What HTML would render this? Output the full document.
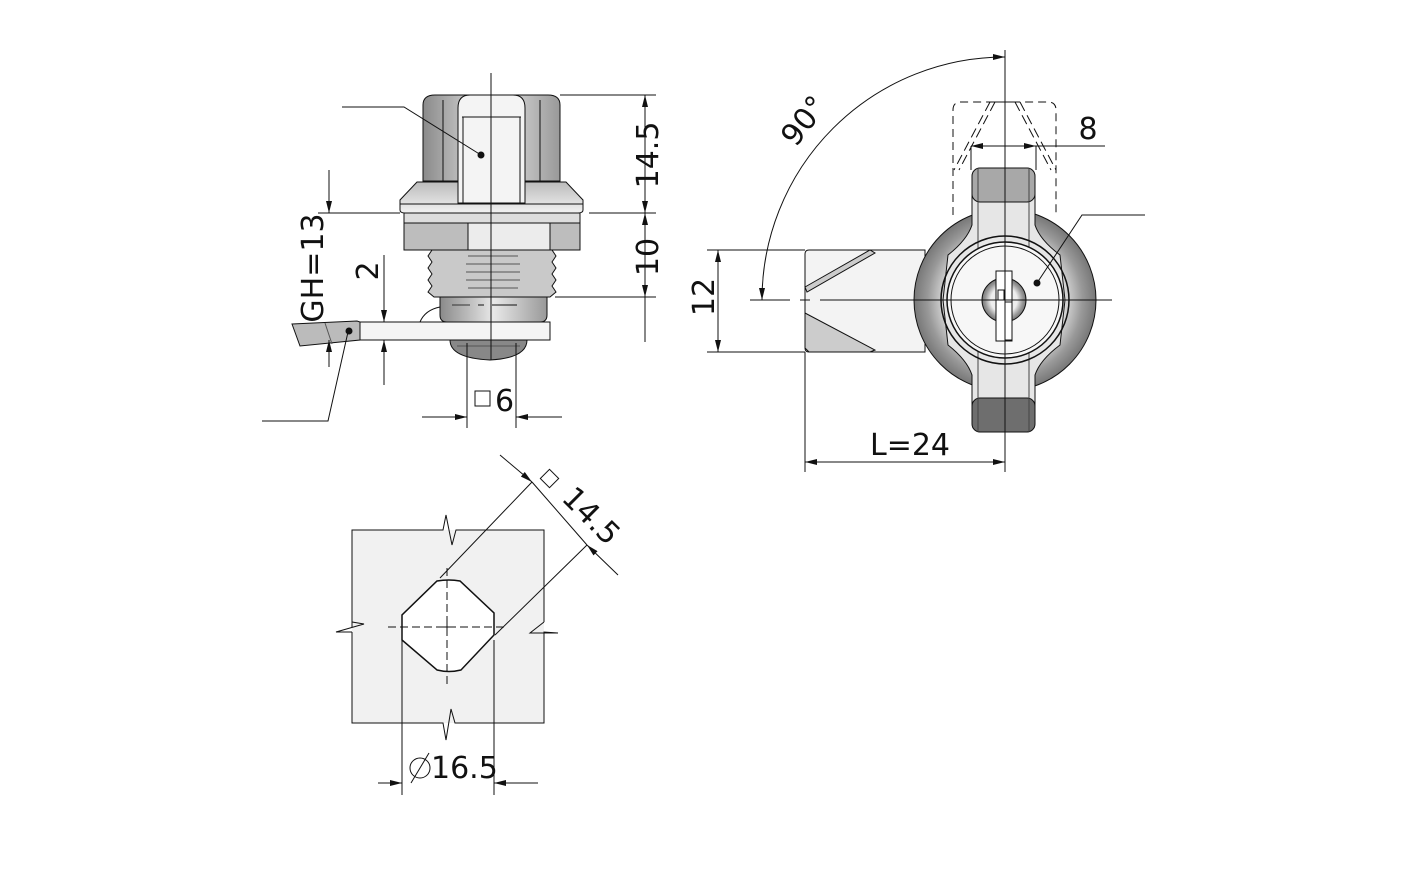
<!DOCTYPE html>
<html><head><meta charset="utf-8"><style>
html,body{margin:0;padding:0;background:#fff}
svg{display:block}
text{font-family:"DejaVu Sans","Liberation Sans",sans-serif;fill:#111}
</style></head><body>
<svg width="1424" height="896" viewBox="0 0 1424 896" xmlns="http://www.w3.org/2000/svg">
<defs>
<marker id="a" viewBox="0 0 12 6" refX="12" refY="3" markerWidth="12" markerHeight="6" orient="auto-start-reverse" markerUnits="userSpaceOnUse"><path d="M0,0 L12,3 L0,6 z" fill="#111"/></marker>
<linearGradient id="gH" x1="0" x2="1"><stop offset="0" stop-color="#8a8a8a"/><stop offset=".5" stop-color="#e8e8e8"/><stop offset="1" stop-color="#999"/></linearGradient>
<linearGradient id="gV" x1="0" y1="0" x2="0" y2="1"><stop offset="0" stop-color="#bbb"/><stop offset="1" stop-color="#f2f2f2"/></linearGradient>
<radialGradient id="gR"><stop offset=".6" stop-color="#eee"/><stop offset=".85" stop-color="#999"/><stop offset="1" stop-color="#777"/></radialGradient>
</defs>
<g stroke="#111" stroke-width="1" fill="none">

<!-- ===== LEFT VIEW ===== -->
<path d="M423,181 V105 Q423,95 435,95 H548 Q560,95 560,105 V181 Z" fill="url(#gH)"/>
<line x1="443" y1="100" x2="443" y2="181"/><line x1="540" y1="100" x2="540" y2="181"/>
<path d="M458,203 V108 Q458,95 470,95 H513 Q525,95 525,108 V203 Z" fill="#f4f4f4"/>
<line x1="462" y1="117" x2="521" y2="117"/>
<line x1="463" y1="117" x2="463" y2="203"/><line x1="520" y1="117" x2="520" y2="203"/>
<path d="M417,182 H458 V203 H525 V182 H566 L583,200 V210 Q583,213 578,213 H405 Q400,213 400,210 V200 Z" fill="url(#gV)"/>
<line x1="400" y1="204" x2="583" y2="204"/>
<rect x="404" y="223" width="176" height="27" fill="#bdbdbd"/>
<rect x="468" y="223" width="82" height="27" fill="#ececec"/>
<rect x="404" y="213" width="176" height="10" fill="#ddd"/>
<path d="M432,250 L428,256 L432,262 L428,268 L432,274 L428,280 L432,286 L428,292 L434,297 H550 L556,292 L552,286 L556,280 L552,274 L556,268 L552,262 L556,256 L552,250 Z" fill="#c9c9c9"/>
<g stroke="#555"><line x1="468" y1="256" x2="518" y2="256"/><line x1="466" y1="264" x2="520" y2="264"/><line x1="466" y1="272" x2="520" y2="272"/><line x1="466" y1="280" x2="520" y2="280"/><line x1="468" y1="288" x2="518" y2="288"/></g>
<path d="M440,297 H547 V315 Q547,322 540,322 H447 Q440,322 440,315 Z" fill="url(#gH)"/>
<line x1="452" y1="305" x2="470" y2="305" stroke="#333"/><line x1="478" y1="305" x2="484" y2="305"/><line x1="492" y1="305" x2="517" y2="305"/>
<path d="M420,322 Q425,310 440,307" />
<rect x="360" y="322" width="190" height="18" fill="#f5f5f5"/>
<path d="M292,324 L357,321 L360,322 V340 L300,346 Z" fill="#bbb"/>
<path d="M325,323 L332,344" stroke="#555"/>
<path d="M450,340 H527 Q527,358 490,360 Q450,358 450,340 Z" fill="#888"/>
<path d="M457,346 H520" stroke="#555"/>
<line x1="491" y1="73" x2="491" y2="360"/>
<polyline points="342,107 404,107 481,155"/>
<circle cx="481" cy="155" r="3" fill="#111"/>
<polyline points="262,421 328,421 348,332"/>
<circle cx="349" cy="331" r="3" fill="#111"/>
<line x1="560" y1="95" x2="656" y2="95"/>
<line x1="589" y1="213" x2="656" y2="213"/>
<line x1="555" y1="297" x2="656" y2="297"/>
<line x1="645" y1="95" x2="645" y2="213" marker-start="url(#a)" marker-end="url(#a)"/>
<line x1="645" y1="213" x2="645" y2="297" marker-start="url(#a)" marker-end="url(#a)"/>
<line x1="645" y1="297" x2="645" y2="342" />
<line x1="318" y1="213" x2="400" y2="213"/>
<line x1="329" y1="170" x2="329" y2="213" marker-end="url(#a)"/>
<line x1="329" y1="367" x2="329" y2="340" marker-end="url(#a)"/>
<line x1="384" y1="255" x2="384" y2="322" marker-end="url(#a)"/>
<line x1="384" y1="385" x2="384" y2="340" marker-end="url(#a)"/>
<line x1="467" y1="343" x2="467" y2="428"/><line x1="516" y1="343" x2="516" y2="428"/>
<line x1="422" y1="417" x2="467" y2="417" marker-end="url(#a)"/>
<line x1="562" y1="417" x2="516" y2="417" marker-end="url(#a)"/>
<rect x="475" y="391" width="15" height="15"/>

<!-- ===== BOTTOM VIEW ===== -->
<rect x="352" y="530" width="192" height="193" fill="#f1f1f1" stroke="none"/>
<polyline points="352,627 352,530 443,530 446,515 452,545 456,530 544,530 544,622"/>
<polyline points="544,622 530,633 558,633 544,632 544,723 455,723 451,709 446,740 443,723 352,723 352,632"/>
<polyline points="352,632 336,632 364,624 352,622 352,627"/>
<path d="M437,581 Q449,579 460,581 L494,613 V635 L461,670 Q449,673 437,670 L402,640 V615 Z" fill="#fff" stroke-width="1.5"/>
<line x1="447" y1="568" x2="447" y2="688" stroke-dasharray="8,4"/>
<line x1="388" y1="627" x2="508" y2="627" stroke-dasharray="8,4"/>
<line x1="439" y1="627" x2="455" y2="627"/><line x1="447" y1="619" x2="447" y2="635"/>
<line x1="440" y1="578" x2="532" y2="482"/>
<line x1="495" y1="635" x2="587" y2="545"/>
<line x1="500" y1="455" x2="532" y2="482" marker-end="url(#a)"/>
<line x1="532" y1="482" x2="587" y2="545"/>
<line x1="618" y1="575" x2="587" y2="545" marker-end="url(#a)"/>
<rect x="543" y="472" width="13" height="13" transform="rotate(45 549.5 478.5)"/>
<line x1="402" y1="640" x2="402" y2="795"/><line x1="494" y1="640" x2="494" y2="795"/>
<line x1="378" y1="783" x2="402" y2="783" marker-end="url(#a)"/>
<line x1="538" y1="783" x2="494" y2="783" marker-end="url(#a)"/>
<circle cx="420" cy="768" r="10"/><line x1="411" y1="783" x2="429" y2="753"/>

<!-- ===== RIGHT VIEW ===== -->
<path d="M953,215 V110 Q953,102 961,102 H1048 Q1056,102 1056,110 V215" stroke-dasharray="8,5"/>
<path d="M990,102 L954,170 M995,102 L959,170 M1020,102 L1056,170 M1015,102 L1051,170" stroke-dasharray="10,5"/>
<line x1="990" y1="102" x2="1020" y2="102"/>
<path d="M809,250 H925 V352 H809 Q805,352 805,348 V254 Q805,250 809,250 Z" fill="#f3f3f3"/>
<path d="M805,287 L870,250 L875,253 L807,292 Z" fill="#ccc"/>
<path d="M805,313 L875,350 L870,352 H809 L805,348 Z" fill="#ccc"/>
<circle cx="1005" cy="300" r="91" fill="url(#gR)"/>
<path d="M972,180 Q972,168 982,168 H1025 Q1035,168 1035,180 V225 Q1040,240 1060,255 L1065,300 L1060,345 Q1040,360 1035,375 V420 Q1035,432 1025,432 H982 Q972,432 972,420 V375 Q967,360 948,345 L943,300 L948,255 Q967,240 972,225 Z" fill="#e6e6e6"/>
<rect x="972" y="168" width="63" height="34" rx="8" fill="#a8a8a8"/>
<rect x="972" y="398" width="63" height="34" rx="8" fill="#6e6e6e"/>
<line x1="978" y1="168" x2="978" y2="432" stroke="#444"/><line x1="1029" y1="168" x2="1029" y2="432" stroke="#444"/>
<circle cx="1005" cy="300" r="64" fill="none" stroke-width="1.5"/>
<circle cx="1005" cy="300" r="58" fill="#f7f7f7" stroke-width="1.5"/>
<circle cx="1005" cy="300" r="54"/>
<circle cx="1004" cy="300" r="22" fill="url(#gR)"/>
<rect x="996" y="271" width="16" height="70" fill="#fff"/>
<rect x="998" y="290" width="6" height="10"/><rect x="1005" y="302" width="7" height="38"/>
<line x1="1005" y1="50" x2="1005" y2="472"/>
<line x1="750" y1="300" x2="790" y2="300"/><line x1="800" y1="300" x2="810" y2="300"/><line x1="820" y1="300" x2="1112" y2="300"/>
<polyline points="1145,215 1082,215 1037,283"/>
<circle cx="1037" cy="283" r="3" fill="#111"/>
<path d="M762,300 A243,243 0 0 1 1005,57" marker-start="url(#a)" marker-end="url(#a)"/>
<line x1="971" y1="146" x2="971" y2="170"/><line x1="1036" y1="146" x2="1036" y2="170"/>
<line x1="1005" y1="146" x2="971" y2="146" marker-end="url(#a)"/>
<line x1="1005" y1="146" x2="1036" y2="146" marker-end="url(#a)"/>
<line x1="1036" y1="146" x2="1105" y2="146"/>
<line x1="707" y1="250" x2="805" y2="250"/><line x1="707" y1="352" x2="805" y2="352"/>
<line x1="718" y1="300" x2="718" y2="250" marker-end="url(#a)"/>
<line x1="718" y1="300" x2="718" y2="352" marker-end="url(#a)"/>
<line x1="805" y1="352" x2="805" y2="472"/>
<line x1="900" y1="462" x2="805" y2="462" marker-end="url(#a)"/>
<line x1="900" y1="462" x2="1005" y2="462" marker-end="url(#a)"/>
</g>

<g font-size="30">
<text transform="translate(658,155) rotate(-90)" text-anchor="middle">14.5</text>
<text transform="translate(658,257) rotate(-90)" text-anchor="middle">10</text>
<text transform="translate(323,268) rotate(-90)" text-anchor="middle">GH=13</text>
<text transform="translate(378,271) rotate(-90)" text-anchor="middle">2</text>
<text x="495" y="411">6</text>
<text x="431" y="778">16.5</text>
<text transform="translate(584,523) rotate(45)" text-anchor="middle">14.5</text>
<text transform="translate(812,127) rotate(-52)" text-anchor="middle">90°</text>
<text x="1088" y="139" text-anchor="middle">8</text>
<text transform="translate(714,297) rotate(-90)" text-anchor="middle">12</text>
<text x="910" y="455" text-anchor="middle">L=24</text>
</g>
</svg>
</body></html>
